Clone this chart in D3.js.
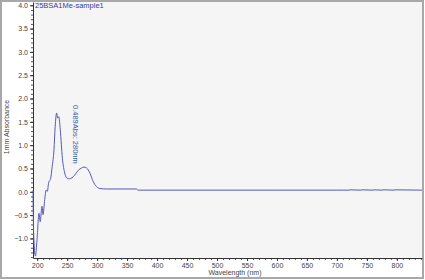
<!DOCTYPE html>
<html>
<head>
<meta charset="utf-8">
<script src="https://cdn.jsdelivr.net/npm/d3@7"></script>
<style>
    body { margin: 0; background: #fff; }
    text { font-family: "Liberation Sans", Arial, sans-serif; }
</style>
</head>
<body>
<script>
const width = 425;
const height = 280;

// spectrum
const wavelengths = [193, 194, 197, 199.7, 203, 205, 208, 209.7, 212.5, 215, 217, 219, 222.5, 225, 228, 230,
    232.5, 234, 236, 238.5, 242, 246, 250, 254, 258, 262, 268.5, 274, 278, 282.5, 288, 293.5, 299, 304.7, 316,
    338, 360, 366, 368, 400, 500, 600, 700, 720, 722, 740, 742, 760, 762, 775, 777, 795, 797, 842];
const absorbance = [0.03, -0.88, -1.38, -1.03, -0.46, -0.64, -0.31, -0.49, -0.17, 0.04, 0.01, 0.19, 0.29, 0.54, 0.9, 1.4,
    1.69, 1.58, 1.61, 1.33, 0.72, 0.4, 0.29, 0.28, 0.3, 0.35, 0.46, 0.51, 0.53, 0.51, 0.4, 0.22, 0.11, 0.07, 0.06,
    0.06, 0.06, 0.06, 0.035, 0.035, 0.035, 0.035, 0.035, 0.035, 0.042, 0.035, 0.042, 0.035, 0.042, 0.035, 0.042, 0.035, 0.042, 0.035];

const yTicks = [-1.0, -0.5, 0.0, 0.5, 1.0, 1.5, 2.0, 2.5, 3.0, 3.5, 4.0];
const xTicks = [200, 250, 300, 350, 400, 450, 500, 550, 600, 650, 700, 750, 800];

const sampleName = "25BSA1Me-sample1";
const peakNote = "0.489Abs: 280nm";

const margin = { top: 2, right: 3, bottom: 22, left: 33 };

const svg = d3
    .select("body")
    .append("svg")
    .attr("width", width)
    .attr("height", height);

// outer frame
svg.append("rect")
    .attr("x", 1)
    .attr("y", 1)
    .attr("width", width - 3)
    .attr("height", height - 3)
    .attr("fill", "#fff")
    .attr("stroke", "#a8a8a8")
    .attr("stroke-width", 2);

const x = d3.scaleLinear()
    .domain([193, 842])
    .range([margin.left, width - margin.right]);

const y = d3.scaleLinear()
    .domain([-1.42, 4.07])
    .range([height - margin.bottom, margin.top]);

// plot background
svg.append("rect")
    .attr("x", margin.left)
    .attr("y", margin.top)
    .attr("width", width - margin.right - margin.left)
    .attr("height", height - margin.bottom - margin.top)
    .attr("fill", "#f5f5f5");

// minor ticks
const xAxisMinor = d3.axisBottom(x)
    .tickValues(d3.range(200, 841, 10))
    .tickSize(2)
    .tickFormat("");
svg.append("g")
    .attr("transform", `translate(0,${height - margin.bottom})`)
    .call(xAxisMinor)
    .call((g) => g.select(".domain").remove())
    .call((g) => g.selectAll("line").attr("stroke", "#555"));

const yAxisMinor = d3.axisLeft(y)
    .tickValues(d3.range(-1.4, 4.05, 0.1))
    .tickSize(2)
    .tickFormat("");
svg.append("g")
    .attr("transform", `translate(${margin.left},0)`)
    .call(yAxisMinor)
    .call((g) => g.select(".domain").remove())
    .call((g) => g.selectAll("line").attr("stroke", "#555"));

// main axes
const xAxis = d3.axisBottom(x)
    .tickValues(xTicks)
    .tickSize(3)
    .tickSizeOuter(0)
    .tickPadding(2)
    .tickFormat(d3.format("d"));
svg.append("g")
    .attr("transform", `translate(0,${height - margin.bottom})`)
    .call(xAxis)
    .call((g) => g.select(".domain").attr("stroke", "#333"))
    .call((g) => g.selectAll("line").attr("stroke", "#333"))
    .call((g) => g.selectAll("text").attr("font-size", "7px").attr("fill", "#444"));

const yAxis = d3.axisLeft(y)
    .tickValues(yTicks)
    .tickSize(3)
    .tickSizeOuter(0)
    .tickPadding(2)
    .tickFormat(d3.format(".1f"));
svg.append("g")
    .attr("transform", `translate(${margin.left},0)`)
    .call(yAxis)
    .call((g) => g.select(".domain").attr("stroke", "#333"))
    .call((g) => g.selectAll("line").attr("stroke", "#333"))
    .call((g) => g.selectAll("text").attr("font-size", "7px").attr("fill", "#444"));

// axis titles
svg.append("text")
    .text("Wavelength (nm)")
    .attr("x", x(530))
    .attr("y", 275)
    .attr("text-anchor", "middle")
    .attr("font-size", "7px")
    .attr("fill", "#444");

svg.append("text")
    .text("1mm Absorbance")
    .attr("transform", `translate(9,127) rotate(-90)`)
    .attr("text-anchor", "middle")
    .attr("font-size", "7px")
    .attr("fill", "#444");

// spectrum
const points = wavelengths.map((w, i) => [w, absorbance[i]]);
const line = d3.line()
    .x((d) => x(d[0]))
    .y((d) => y(d[1]))
    .curve(d3.curveMonotoneX);

svg.append("path")
    .datum(points)
    .attr("d", line)
    .attr("fill", "none")
    .attr("stroke", "#5858b8")
    .attr("stroke-width", 1);

// labels in the plot
svg.append("text")
    .text(sampleName)
    .attr("x", margin.left + 2)
    .attr("y", 8)
    .attr("font-size", "7.5px")
    .attr("fill", "#3a3a9a");

svg.append("text")
    .text(peakNote)
    .attr("transform", `translate(${x(265) - 3},${105}) rotate(90)`)
    .attr("font-size", "7.5px")
    .attr("fill", "#3a5aa0");
</script>
</body>
</html>
